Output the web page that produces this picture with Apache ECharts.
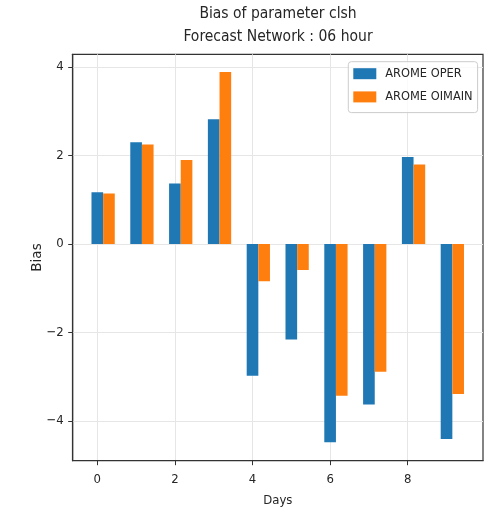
<!DOCTYPE html>
<html>
<head>
<meta charset="utf-8">
<script src="https://cdn.jsdelivr.net/npm/echarts@6/dist/echarts.min.js"></script>
<style>
  html, body { margin: 0; padding: 0; background: #fff; }
  #chart { width: 499px; height: 517px; }
</style>
</head>
<body>
<div id="chart"></div>
<script>
// data
const days = [0, 1, 2, 3, 4, 5, 6, 7, 8, 9];
const operBias = [1.17, 2.30, 1.37, 2.82, -2.98, -2.16, -4.48, -3.63, 1.97, -4.41];
const oimainBias = [1.14, 2.25, 1.90, 3.89, -0.84, -0.59, -3.43, -2.89, 1.80, -3.39];
const xTicks = [0, 2, 4, 6, 8];
const yTicks = [-4, -2, 0, 2, 4];

const seriesNames = ['AROME OPER', 'AROME OIMAIN'];
const colors = ['#1f77b4', '#ff7f0e'];
const BAR_W = 0.3;
const NARROW = "'DejaVu Sans Condensed', 'DejaVu Sans', sans-serif";
const TEXT = '#262626';

function barItem(params, api) {
    const x = api.value(0);
    const v = api.value(1);
    const a = api.coord([x - BAR_W / 2, v]);
    const b = api.coord([x + BAR_W / 2, 0]);
    return {
        type: 'rect',
        shape: {
            x: a[0],
            y: Math.min(a[1], b[1]),
            width: b[0] - a[0],
            height: Math.abs(b[1] - a[1])
        },
        style: api.style()
    };
}

function minusSign(v) {
    return String(v).replace('-', '\u2212');
}

const chart = echarts.init(document.getElementById('chart'));

chart.setOption({
    animation: false,
    title: {
        text: 'Bias of parameter clsh\nForecast Network : 06 hour',
        left: 278,
        top: 2.5,
        padding: 0,
        textAlign: 'center',
        textStyle: {
            fontFamily: NARROW,
            fontSize: 15.5,
            fontWeight: 'normal',
            lineHeight: 22.7,
            color: TEXT
        }
    },
    legend: {
        orient: 'vertical',
        left: 348.3,
        top: 61.7,
        icon: 'rect',
        itemWidth: 23,
        itemHeight: 11,
        itemGap: 9.2,
        padding: [5, 5, 8.7, 5],
        borderColor: '#cccccc',
        borderWidth: 1,
        borderRadius: 3,
        backgroundColor: 'rgba(255,255,255,0.8)',
        data: seriesNames,
        textStyle: {
            fontFamily: NARROW,
            fontSize: 12.7,
            lineHeight: 14,
            color: TEXT,
            padding: [0, 0, 0, 4]
        }
    },
    grid: {
        left: 72.7,
        right: 16,
        top: 54.3,
        bottom: 56.3,
        show: true,
        borderColor: '#333',
        borderWidth: 1.2,
        containLabel: false
    },
    xAxis: {
        type: 'value',
        min: -0.634,
        max: 9.94,
        name: 'Days',
        nameLocation: 'middle',
        nameGap: 33.5,
        nameMoveOverlap: false,
        nameTextStyle: { fontFamily: NARROW, fontSize: 13, color: TEXT },
        axisLine: { show: true, onZero: false, lineStyle: { color: '#333', width: 1.2 } },
        axisTick: { show: true, length: 4.5, customValues: xTicks, lineStyle: { color: '#333' } },
        axisLabel: { customValues: xTicks, fontFamily: NARROW, fontSize: 13, color: TEXT, margin: 12 },
        splitLine: { show: true, lineStyle: { color: '#e6e6e6', width: 1 } }
    },
    yAxis: {
        type: 'value',
        min: -4.9,
        max: 4.29,
        name: 'Bias',
        nameLocation: 'middle',
        nameGap: 28,
        nameMoveOverlap: false,
        nameTextStyle: { fontFamily: "'DejaVu Sans', sans-serif", fontSize: 13.5, color: TEXT },
        axisLine: { show: true, onZero: false, lineStyle: { color: '#333', width: 1.2 } },
        axisTick: { show: true, length: 4.5, customValues: yTicks, lineStyle: { color: '#333' } },
        axisLabel: { customValues: yTicks, fontFamily: NARROW, fontSize: 13, color: TEXT, margin: 9, formatter: minusSign },
        splitLine: { show: true, lineStyle: { color: '#e6e6e6', width: 1 } }
    },
    series: [
        {
            name: seriesNames[0],
            type: 'custom',
            renderItem: barItem,
            clip: true,
            itemStyle: { color: colors[0] },
            encode: { x: 0, y: 1 },
            data: days.map((d, i) => [d, operBias[i]])
        },
        {
            name: seriesNames[1],
            type: 'custom',
            renderItem: barItem,
            clip: true,
            itemStyle: { color: colors[1] },
            encode: { x: 0, y: 1 },
            data: days.map((d, i) => [d + BAR_W, oimainBias[i]])
        }
    ]
});
</script>
</body>
</html>
